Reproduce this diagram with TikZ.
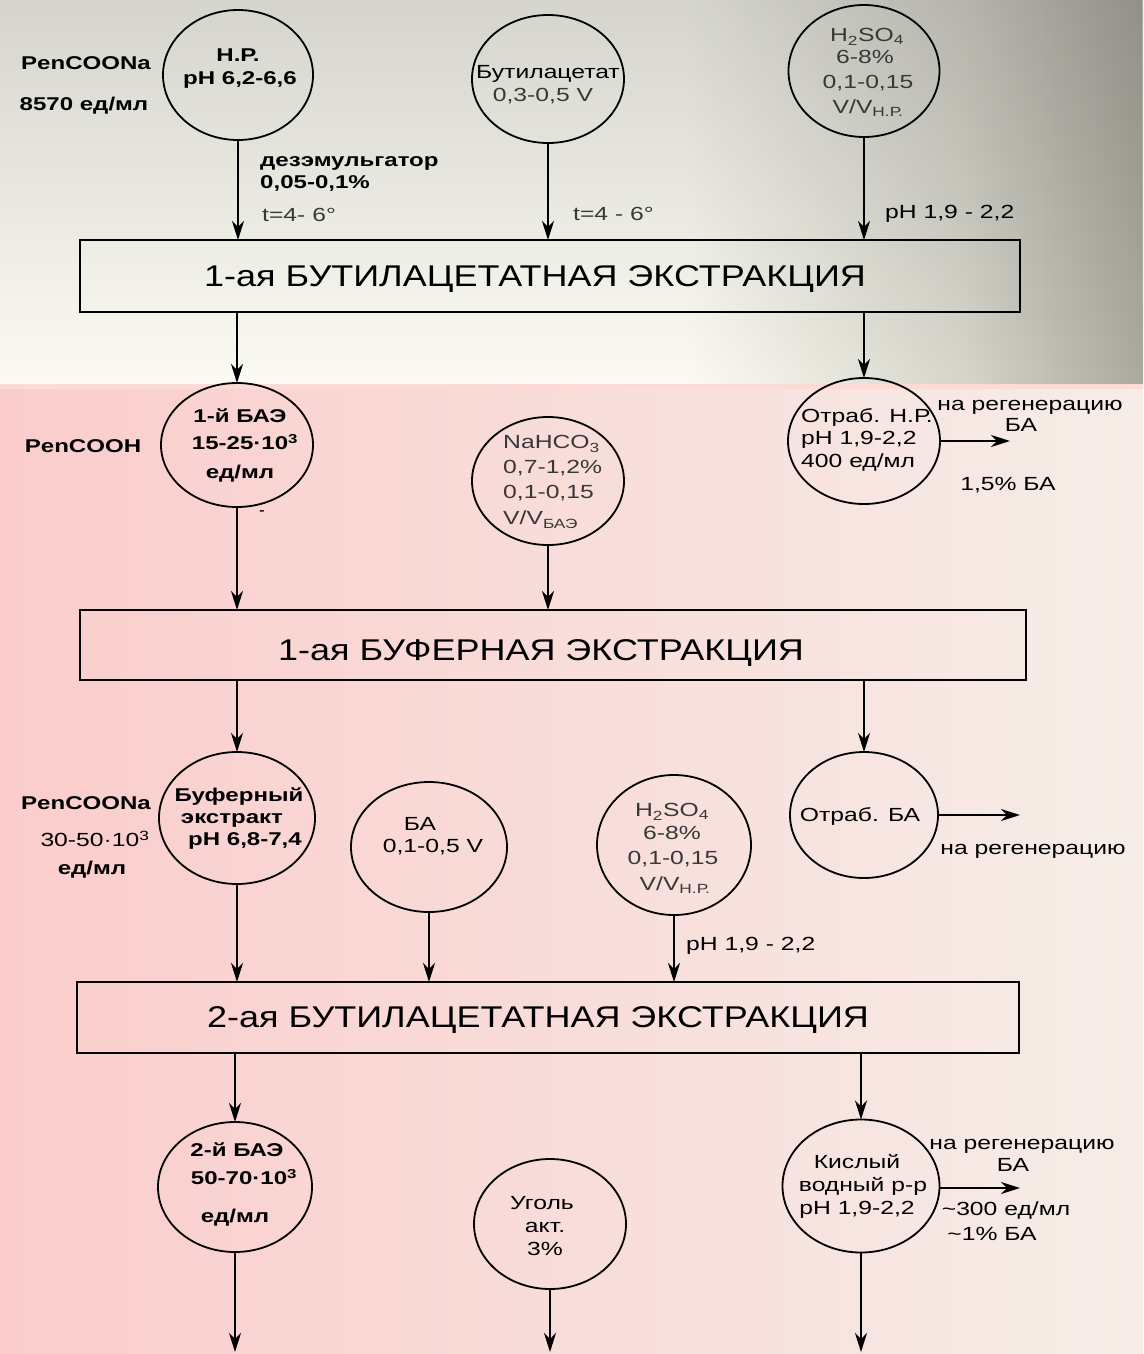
\documentclass[tikz,border=0pt]{standalone}
\usepackage{fontspec}
\setmainfont{Liberation Sans}[FakeStretch=1.3]
\newfontfamily\boxfont{Liberation Sans}[FakeStretch=1.2]
\usetikzlibrary{shapes.geometric,arrows.meta,fadings}
\definecolor{creamL}{RGB}{251,251,243}
\definecolor{greyM}{RGB}{214,214,204}
\definecolor{greyR}{RGB}{170,170,160}
\definecolor{pinkL}{RGB}{250,205,204}
\definecolor{pinkR}{RGB}{246,237,231}
\definecolor{pinkline}{RGB}{252,218,214}
\pgfdeclarehorizontalshading{topband}{100bp}{color(0bp)=(creamL); color(25bp)=(creamL); color(55bp)=(creamL); color(67bp)=(greyM); color(75bp)=(greyR); color(100bp)=(greyR)}
\tikzfading[name=fadedown, top color=transparent!0, bottom color=transparent!100]
\begin{document}
\begin{tikzpicture}[x=1pt,y=-1pt,
  circ/.style={ellipse, draw, line width=1.8pt, inner sep=0pt, outer sep=0pt},
  procbox/.style={rectangle, draw, line width=1.8pt, inner sep=0pt, outer sep=0pt},
  arr/.style={line width=1.8pt, -{Stealth[length=19pt,width=12pt,inset=6pt]}},
  bt/.style={inner sep=0pt, font=\fontsize{18.5}{22}\selectfont\bfseries, text height=13pt, text depth=0pt},
  rt/.style={inner sep=0pt, font=\fontsize{19}{22}\selectfont, text height=13.5pt, text depth=0pt},
  lt/.style={rt, text=black!78},
  bxt/.style={inner sep=0pt, font=\boxfont\fontsize{30}{34}\selectfont, text height=21.5pt, text depth=0pt}]
\useasboundingbox (0,0) rectangle (1143,1354);
% background
\shade[shading=topband] (0,0) rectangle (1143,385);
\fill[black, fill opacity=0.15, path fading=fadedown] (0,0) rectangle (1143,385);
\shade[left color=pinkL, right color=pinkR] (0,385) rectangle (1143,1354);
\fill[pinkline] (0,384) rectangle (1143,389);

% ---------- top row ----------
\node[bt] (pen1) at (86,63) {PenCOONa};
\node[bt] (u1) at (84,104) {8570 ед/мл};
\node[circ, minimum width=150pt, minimum height=130pt] (hp) at (238,75) {};
\node[bt] (hp1) at (238,55) {Н.Р.};
\node[bt] (hp2) at (240,78) {рН 6,2-6,6};

\node[circ, minimum width=152pt, minimum height=128pt] (bac) at (548,79) {};
\node[rt] (bac1) at (548,72) {Бутилацетат};
\node[lt] (bac2) at (543,95) {0,3-0,5 V};

\node[circ, minimum width=151pt, minimum height=132pt] (hs1) at (864,71) {};
\node[lt] (hs1a) at (867,35) {H\textsubscript{2}SO\textsubscript{4}};
\node[lt] (hs1b) at (865,57) {6-8\%};
\node[lt] (hs1c) at (868,82) {0,1-0,15};
\node[lt] (hs1d) at (868,107) {V/V\textsubscript{Н.Р.}};

\node[bt, anchor=west] (dem1) at (260,160) {дезэмульгатор};
\node[bt, anchor=west] (dem2) at (260,182) {0,05-0,1\%};
\node[lt, anchor=west] (tA) at (262,215) {t=4- 6°};
\node[lt, anchor=west] (tB) at (573,214) {t=4 - 6°};
\node[rt, anchor=west] (ph1) at (885,212) {рН 1,9 - 2,2};

\node[procbox, minimum width=940pt, minimum height=72pt] (b1) at (550,276) {};
\node[bxt] (b1t) at (535,276) {1-ая БУТИЛАЦЕТАТНАЯ ЭКСТРАКЦИЯ};

\draw[arr] (hp.south) -- (hp.south |- b1.north);
\draw[arr] (bac.south) -- (bac.south |- b1.north);
\draw[arr] (hs1.south) -- (hs1.south |- b1.north);

% ---------- second row ----------
\node[circ, minimum width=152pt, minimum height=124pt] (baez1) at (237,445) {};
\node[bt] (baez1a) at (240,416) {1-й БАЭ};
\node[bt] (baez1b) at (245,443) {15-25·10\textsuperscript{3}};
\node[bt] (baez1c) at (240,472) {ед/мл};
\node[bt] (pen2) at (83,446) {PenCOOH};
\node[inner sep=0pt, font=\fontsize{12}{12}\selectfont\bfseries] (dsh) at (262,513) {-};

\node[circ, minimum width=152pt, minimum height=128pt] (nah) at (548,481) {};
\node[lt, anchor=west] (nah1) at (503,442) {NaHCO\textsubscript{3}};
\node[lt, anchor=west] (nah2) at (503,467) {0,7-1,2\%};
\node[lt, anchor=west] (nah3) at (503,492) {0,1-0,15};
\node[lt, anchor=west] (nah4) at (503,518) {V/V\textsubscript{БАЭ}};

\node[circ, minimum width=152pt, minimum height=126pt] (otr1) at (864,441) {};
\node[rt, anchor=west] (otr1a) at (801,416) {Отраб. Н.Р.};
\node[rt, anchor=west] (otr1b) at (801,438) {рН 1,9-2,2};
\node[rt, anchor=west] (otr1c) at (801,461) {400 ед/мл};
\coordinate (e1) at (1010,441);
\draw[arr] (otr1.east) -- (e1);
\node[rt] (reg1) at (1030,404) {на регенерацию};
\node[rt] (reg1b) at (1021,425) {БА};
\node[rt] (reg1c) at (1008,484) {1,5\% БА};

\draw[arr] (b1.south -| baez1.north) -- (baez1.north);
\draw[arr] (b1.south -| otr1.north) -- (otr1.north);

\node[procbox, minimum width=946pt, minimum height=70pt] (b2) at (553,645) {};
\node[bxt] (b2t) at (541,650) {1-ая БУФЕРНАЯ ЭКСТРАКЦИЯ};

\draw[arr] (baez1.south) -- (baez1.south |- b2.north);
\draw[arr, line width=2.6pt] (nah.south) -- (nah.south |- b2.north);

% ---------- third row ----------
\node[circ, minimum width=156pt, minimum height=132pt] (buf) at (237,818) {};
\node[bt] (buf1) at (239,795) {Буферный};
\node[bt] (buf2) at (232,817) {экстракт};
\node[bt] (buf3) at (245,839) {рН 6,8-7,4};
\node[bt] (pen3) at (86,803) {PenCOONa};
\node[rt] (c3) at (95,840) {30-50·10\textsuperscript{3}};
\node[bt] (u3) at (92,868) {ед/мл};

\node[circ, minimum width=156pt, minimum height=130pt] (baB) at (429,847) {};
\node[rt] (baB1) at (420,824) {БА};
\node[rt] (baB2) at (433,846) {0,1-0,5 V};

\node[circ, minimum width=154pt, minimum height=140pt] (hs2) at (674,845) {};
\node[lt] (hs2a) at (672,810) {H\textsubscript{2}SO\textsubscript{4}};
\node[lt] (hs2b) at (672,833) {6-8\%};
\node[lt] (hs2c) at (673,858) {0,1-0,15};
\node[lt] (hs2d) at (675,884) {V/V\textsubscript{Н.Р.}};

\node[circ, minimum width=148pt, minimum height=126pt] (otr2) at (864,815) {};
\node[rt] (otr2a) at (860,815) {Отраб. БА};
\coordinate (e2) at (1020,815);
\draw[arr] (otr2.east) -- (e2);
\node[rt] (reg2) at (1033,848) {на регенерацию};

\draw[arr] (b2.south -| buf.north) -- (buf.north);
\draw[arr] (b2.south -| otr2.north) -- (otr2.north);

\node[rt, anchor=west] (ph2) at (686,944) {рН 1,9 - 2,2};

\node[procbox, minimum width=942pt, minimum height=71pt] (b3) at (548,1017.5) {};
\node[bxt] (b3t) at (538,1017) {2-ая БУТИЛАЦЕТАТНАЯ ЭКСТРАКЦИЯ};

\draw[arr] (buf.south) -- (buf.south |- b3.north);
\draw[arr] (baB.south) -- (baB.south |- b3.north);
\draw[arr] (hs2.south) -- (hs2.south |- b3.north);

% ---------- bottom row ----------
\node[circ, minimum width=154pt, minimum height=130pt] (baez2) at (235,1187) {};
\node[bt] (baez2a) at (237,1150) {2-й БАЭ};
\node[bt] (baez2b) at (244,1178) {50-70·10\textsuperscript{3}};
\node[bt] (baez2c) at (235,1216) {ед/мл};

\node[circ, minimum width=152pt, minimum height=130pt] (ug) at (550,1224) {};
\node[rt] (ug1) at (542,1203) {Уголь};
\node[rt] (ug2) at (545,1226) {акт.};
\node[rt] (ug3) at (545,1249) {3\%};

\node[circ, minimum width=157pt, minimum height=133pt] (kis) at (861,1186) {};
\node[rt] (kis1) at (857,1162) {Кислый};
\node[rt] (kis2) at (863,1185) {водный р-р};
\node[rt] (kis3) at (857,1208) {рН 1,9-2,2};
\coordinate (e3) at (1020,1188);
\draw[arr] (kis.east |- e3) -- (e3);
\node[rt] (reg3) at (1022,1143) {на регенерацию};
\node[rt] (reg3b) at (1013,1165) {БА};
\node[rt] (reg3c) at (1006,1209) {\textasciitilde 300 ед/мл};
\node[rt] (reg3d) at (992,1234) {\textasciitilde 1\% БА};

\draw[arr] (b3.south -| baez2.north) -- (baez2.north);
\draw[arr] (b3.south -| kis.north) -- (kis.north);

\coordinate (end1) at (235,1352);
\coordinate (end2) at (550,1352);
\coordinate (end3) at (861,1352);
\draw[arr] (baez2.south) -- (end1);
\draw[arr] (ug.south) -- (end2);
\draw[arr] (kis.south) -- (end3);
\end{tikzpicture}
\end{document}
